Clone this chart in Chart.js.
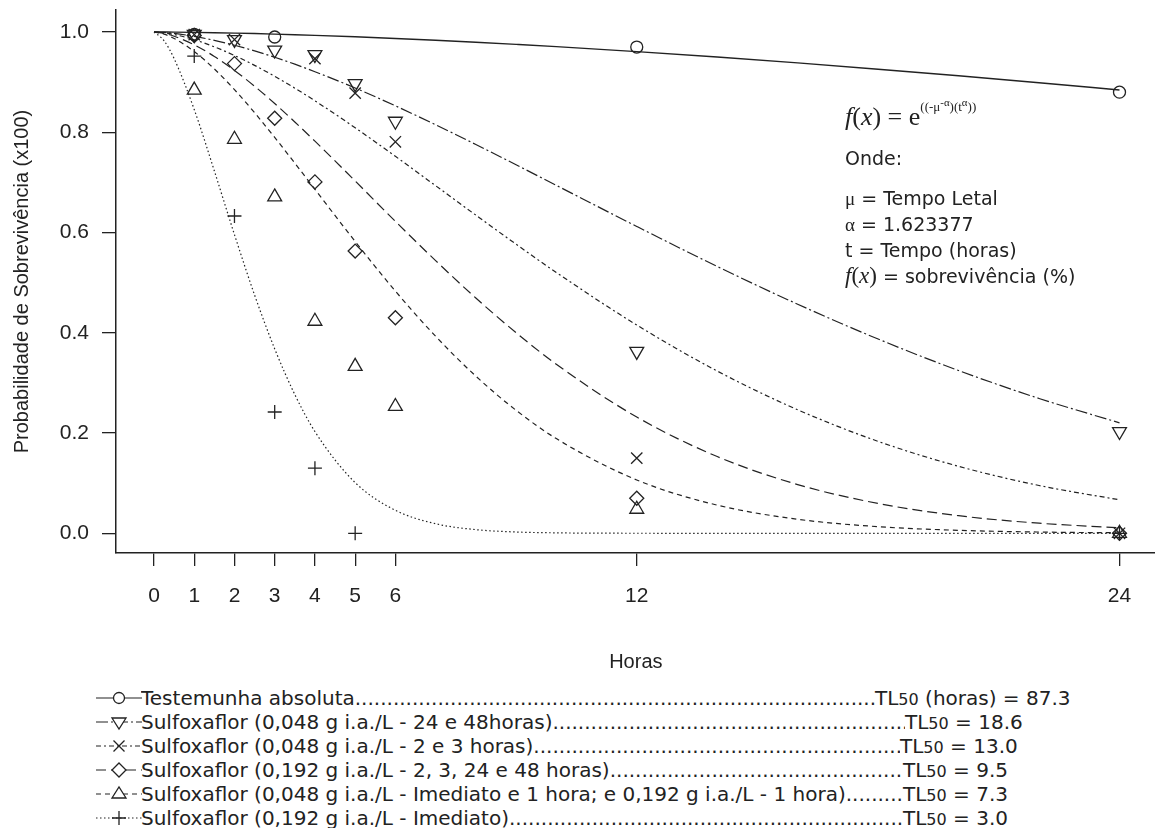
<!DOCTYPE html>
<html>
<head>
<meta charset="utf-8">
<script src="https://cdn.jsdelivr.net/npm/chart.js@4.4.1/dist/chart.umd.min.js"></script>
<style>
  html, body { overflow: hidden; }
  body { margin: 0; background: #fff; width: 1155px; height: 828px; position: relative; color: #222; }
  #chart { position: absolute; left: 0; top: 0; }
  .note { position: absolute; left: 845px; font-family: "DejaVu Sans", Verdana, sans-serif; font-size: 19px; white-space: nowrap; }
  .serif { font-family: "Liberation Serif", "DejaVu Serif", serif; }
  .leg { position: absolute; left: 0; width: 1155px; height: 24px; font-family: "DejaVu Sans", Verdana, sans-serif; font-size: 20px; line-height: 24px; }
  .leg svg { position: absolute; left: 96px; top: 2px; }
  .leg .lab { position: absolute; left: 141px; display: flex; white-space: nowrap; overflow: hidden; }
  .leg .dots { flex: 1; overflow: hidden; white-space: nowrap; }
  .leg .tl { position: absolute; white-space: nowrap; }
  .leg small { font-size: 16px; }
</style>
</head>
<body>
<canvas id="chart" width="1165" height="680"></canvas>

<div class="note serif" style="top:100px; font-size:26px;"><i>f</i>(<i>x</i>) = e<sup style="font-size:13px; position:relative; top:-4px;">((-μ<sup>-α</sup>)(t<sup>α</sup>))</sup></div>
<div class="note" style="top:147px;">Onde:</div>
<div class="note" style="top:187px;"><span class="serif">μ</span> = Tempo Letal</div>
<div class="note" style="top:213px;"><span class="serif">α</span> = 1.623377</div>
<div class="note" style="top:239px;">t = Tempo (horas)</div>
<div class="note" style="top:263px;"><span class="serif" style="font-size:23px;"><i>f</i>(<i>x</i>)</span> = sobrevivência (%)</div>

<div id="legend"></div>

<script>
// ============================= data

const hourTicks = [0, 1, 2, 3, 4, 5, 6, 12, 24]
const probTicks = [0, 0.2, 0.4, 0.6, 0.8, 1.0]

const seriesNames = [
    'Testemunha absoluta',
    'Sulfoxaflor (0,048 g i.a./L - 24 e 48horas)',
    'Sulfoxaflor (0,048 g i.a./L - 2 e 3 horas)',
    'Sulfoxaflor (0,192 g i.a./L - 2, 3, 24 e 48 horas)',
    'Sulfoxaflor (0,048 g i.a./L - Imediato e 1 hora; e 0,192 g i.a./L - 1 hora)',
    'Sulfoxaflor (0,192 g i.a./L - Imediato)'
]
const tl50Labels = ['TL|50| (horas) = 87.3', 'TL|50| = 18.6', 'TL|50| = 13.0', 'TL|50| = 9.5', 'TL|50| = 7.3', 'TL|50| = 3.0']

// observed survival (points)
const obsHours = [1, 2, 3, 4, 5, 6, 12, 24]
const obsTestemunha = [0.995, null, 0.99, null, null, null, 0.97, 0.88]
const obs048Late    = [0.995, 0.985, 0.964, 0.955, 0.897, 0.822, 0.363, 0.203]
const obs048Mid     = [0.995, 0.985, null, 0.947, 0.878, 0.781, 0.15, 0.0]
const obs192Late    = [0.993, 0.937, 0.828, 0.701, 0.563, 0.43, 0.07, 0.0]
const obsEarly      = [0.884, 0.786, 0.671, 0.423, 0.333, 0.253, 0.048, 0.0]
const obs192Now     = [0.952, 0.633, 0.242, 0.13, 0.0, null, null, 0.0]

// fitted curves (lines)
const fitHours = [0, 0.25, 0.5, 1, 1.5, 2, 2.5, 3, 3.5, 4, 5, 6, 7, 8, 9, 10, 12, 14, 16, 18, 20, 22, 24]
const fitTestemunha = [1, 0.9999, 0.9998, 0.9993, 0.9986, 0.9978, 0.9969, 0.9958, 0.9946, 0.9933, 0.9904, 0.9871, 0.9835, 0.9796, 0.9753, 0.9708, 0.9609, 0.9500, 0.9384, 0.9258, 0.9126, 0.8988, 0.8844]
const fit048Late    = [1, 0.9991, 0.9972, 0.9913, 0.9834, 0.9736, 0.9623, 0.9496, 0.9358, 0.9208, 0.8883, 0.8527, 0.8150, 0.7756, 0.7352, 0.6941, 0.6121, 0.5323, 0.4570, 0.3875, 0.3247, 0.2690, 0.2204]
const fit048Mid     = [1, 0.9984, 0.9950, 0.9846, 0.9704, 0.9532, 0.9335, 0.9116, 0.8880, 0.8628, 0.8090, 0.7520, 0.6934, 0.6347, 0.5767, 0.5203, 0.4155, 0.3237, 0.2464, 0.1834, 0.1336, 0.0954, 0.0668]
const fit192Late    = [1, 0.9973, 0.9916, 0.9745, 0.9513, 0.9234, 0.8918, 0.8574, 0.8206, 0.7822, 0.7028, 0.6223, 0.5439, 0.4693, 0.4002, 0.3373, 0.2320, 0.1531, 0.0972, 0.0595, 0.0351, 0.0201, 0.0111]
const fitEarly      = [1, 0.9958, 0.9872, 0.9611, 0.9263, 0.8850, 0.8390, 0.7897, 0.7385, 0.6862, 0.5822, 0.4832, 0.3930, 0.3135, 0.2454, 0.1889, 0.1064, 0.0562, 0.0280, 0.0132, 0.0059, 0.0025, 0.0010]
const fit192Now     = [1, 0.9825, 0.9469, 0.8453, 0.7228, 0.5958, 0.4753, 0.3679, 0.2768, 0.2029, 0.1011, 0.0459, 0.0191, 0.0073, 0.0026, 0.0009, 0.0001, 0, 0, 0, 0, 0, 0]

// ============================= styles

const INK = '#222'
const observed = [obsTestemunha, obs048Late, obs048Mid, obs192Late, obsEarly, obs192Now]
const fitted = [fitTestemunha, fit048Late, fit048Mid, fit192Late, fitEarly, fit192Now]
const markers = [
    { style: 'circle', radius: 6, rotation: 0 },
    { style: 'triangle', radius: 8, rotation: 180 },
    { style: 'crossRot', radius: 8, rotation: 0 },
    { style: 'rectRot', radius: 7, rotation: 0 },
    { style: 'triangle', radius: 8, rotation: 0 },
    { style: 'cross', radius: 7, rotation: 0 }
]
const dashes = [[], [12, 3, 2, 3], [5, 3, 2, 3], [10, 5], [5, 4], [1.5, 2.5]]
const tlLeft = [875, 905, 900, 903, 903, 903]
const legendTop = [686, 710, 734, 758, 782, 806]

// ============================= chart

const datasets = []
fitted.forEach((fit, i) => {
    datasets.push({
        data: fitHours.map((h, k) => ({ x: h, y: fit[k] })),
        borderColor: INK,
        borderWidth: i == 0 ? 1.4 : 1.2,
        borderDash: dashes[i],
        pointRadius: 0,
        cubicInterpolationMode: 'monotone',
        fill: false
    })
})
observed.forEach((obs, i) => {
    datasets.push({
        data: obsHours.map((h, k) => ({ x: h, y: obs[k] })).filter(p => p.y !== null),
        showLine: false,
        borderColor: INK,
        backgroundColor: 'transparent',
        pointStyle: markers[i].style,
        pointRadius: markers[i].radius,
        pointRotation: markers[i].rotation,
        pointBorderWidth: 1.3,
        pointBorderColor: INK,
        pointBackgroundColor: 'transparent'
    })
})

const tickFont = { family: 'Liberation Sans, Arial, sans-serif', size: 21 }
const titleFont = { family: 'Liberation Sans, Arial, sans-serif', size: 20 }

const noPad = (s) => { s.paddingTop = 0; s.paddingBottom = 0; s.paddingLeft = 0; s.paddingRight = 0 }

// the canvas is 10px wider than the page: Chart.js keeps a point-radius margin on the right
new Chart(document.getElementById('chart'), {
    type: 'line',
    data: { datasets: datasets },
    options: {
        responsive: false,
        animation: false,
        clip: false,
        layout: { padding: { top: 10, left: 0, right: 0, bottom: 0 } },
        plugins: { legend: { display: false }, tooltip: { enabled: false } },
        scales: {
            x: {
                type: 'linear',
                min: -0.945,
                max: 24.9,
                afterBuildTicks: (s) => { s.ticks = hourTicks.map(v => ({ value: v })) },
                afterFit: (s) => { s.height = 127; noPad(s) },
                ticks: { font: tickFont, color: INK, padding: 18, maxRotation: 0, autoSkip: false, callback: (v) => String(v) },
                grid: { drawOnChartArea: false, tickLength: 13, color: INK, lineWidth: 1.3 },
                border: { color: INK, width: 1.5 },
                title: { display: true, text: 'Horas', font: titleFont, color: INK, padding: { top: 0, bottom: 6 } }
            },
            y: {
                type: 'linear',
                min: -0.0393,
                max: 1.0439,
                afterBuildTicks: (s) => { s.ticks = probTicks.map(v => ({ value: v })) },
                afterFit: (s) => { s.width = 116; noPad(s) },
                ticks: { font: tickFont, color: INK, padding: 13, callback: (v) => v.toFixed(1) },
                grid: { drawOnChartArea: false, tickLength: 14, color: INK, lineWidth: 1.3 },
                border: { color: INK, width: 1.5 },
                title: { display: true, text: 'Probabilidade de Sobrevivência (x100)', font: titleFont, color: INK, padding: { top: 10, bottom: 0 } }
            }
        }
    }
})

// ============================= legend below the plot

const markerSvg = (i) => {
    const c = 23, m = 10
    switch (i) {
        case 0: return `<circle cx="${c}" cy="${m}" r="5.5"/>`
        case 1: return `<polygon points="${c - 7},${m - 4} ${c + 7},${m - 4} ${c},${m + 7}"/>`
        case 2: return `<path d="M${c - 5.5} ${m - 5.5}L${c + 5.5} ${m + 5.5}M${c + 5.5} ${m - 5.5}L${c - 5.5} ${m + 5.5}"/>`
        case 3: return `<polygon points="${c},${m - 7} ${c + 7},${m} ${c},${m + 7} ${c - 7},${m}"/>`
        case 4: return `<polygon points="${c - 7},${m + 4} ${c + 7},${m + 4} ${c},${m - 7}"/>`
        default: return `<path d="M${c - 7} ${m}L${c + 7} ${m}M${c} ${m - 7}L${c} ${m + 7}"/>`
    }
}

const legend = document.getElementById('legend')
seriesNames.forEach((name, i) => {
    const row = document.createElement('div')
    row.className = 'leg'
    row.style.top = legendTop[i] + 'px'
    const dash = dashes[i].length ? `stroke-dasharray="${dashes[i].join(' ')}"` : ''
    const tl = tl50Labels[i].split('|')
    row.innerHTML =
        `<svg width="46" height="20"><line x1="0" y1="10" x2="46" y2="10" stroke="${INK}" stroke-width="1.2" ${dash}/>` +
        `<g fill="#fff" stroke="${INK}" stroke-width="1.3">${markerSvg(i)}</g></svg>` +
        `<div class="lab" style="width:${tlLeft[i] - 141}px"><span>${name}</span><span class="dots">${'.'.repeat(200)}</span></div>` +
        `<div class="tl" style="left:${tlLeft[i]}px">${tl[0]}<small>${tl[1]}</small>${tl[2]}</div>`
    legend.appendChild(row)
})
</script>
</body>
</html>
